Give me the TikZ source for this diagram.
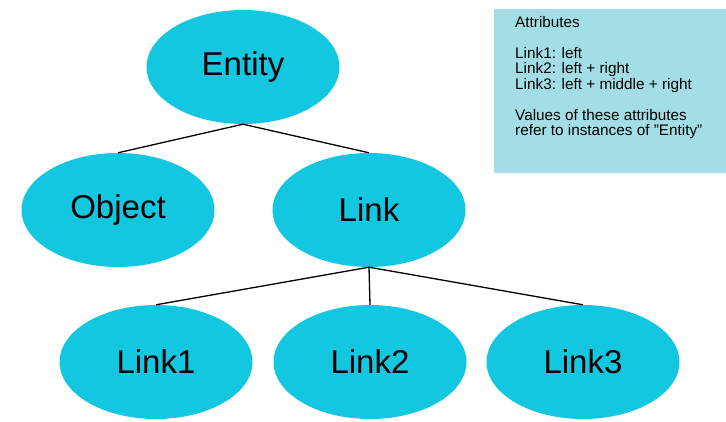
\documentclass[tikz,border=0pt]{standalone}
\usepackage{fontspec}
\setmainfont{Liberation Sans}
\usetikzlibrary{shapes.geometric}
\definecolor{nodecyan}{HTML}{14C7E1}
\definecolor{notebox}{HTML}{A3DDE6}
\begin{document}
\begin{tikzpicture}[x=1pt,y=-1pt,
  entitynode/.style={ellipse, fill=nodecyan, draw=none, minimum width=193pt,
    minimum height=114pt, inner sep=0pt, font=\fontsize{33}{36}\selectfont},
  treeline/.style={draw=black, line width=1.3pt}]
\useasboundingbox (0,0) rectangle (726,421);

% attribute note
\fill[notebox] (494,9) rectangle (726,173);
\node[anchor=north west, inner sep=0pt, align=left,
      font=\fontsize{15.3}{15.5}\selectfont] (note) at (515,16.2)
  {Attributes\\[15.5pt]
   Link1: left\\
   Link2: left + right\\
   Link3: left + middle + right\\[15.5pt]
   Values of these attributes\\
   refer to instances of \symbol{34}Entity\symbol{34}};

% class tree
\node[entitynode] (entity) at (243,67) {Entity};
\node[entitynode] (object) at (118,210) {Object};
\node[entitynode] (link)   at (369,210) {Link};
\node[entitynode] (link1)  at (156,362) {Link1};
\node[entitynode] (link2)  at (370,362) {Link2};
\node[entitynode] (link3)  at (583,362) {Link3};

\draw[treeline] (entity.south) -- (object.north);
\draw[treeline] (entity.south) -- (link.north);
\draw[treeline] (link.south) -- (link1.north);
\draw[treeline] (link.south) -- (link2.north);
\draw[treeline] (link.south) -- (link3.north);
\end{tikzpicture}
\end{document}
